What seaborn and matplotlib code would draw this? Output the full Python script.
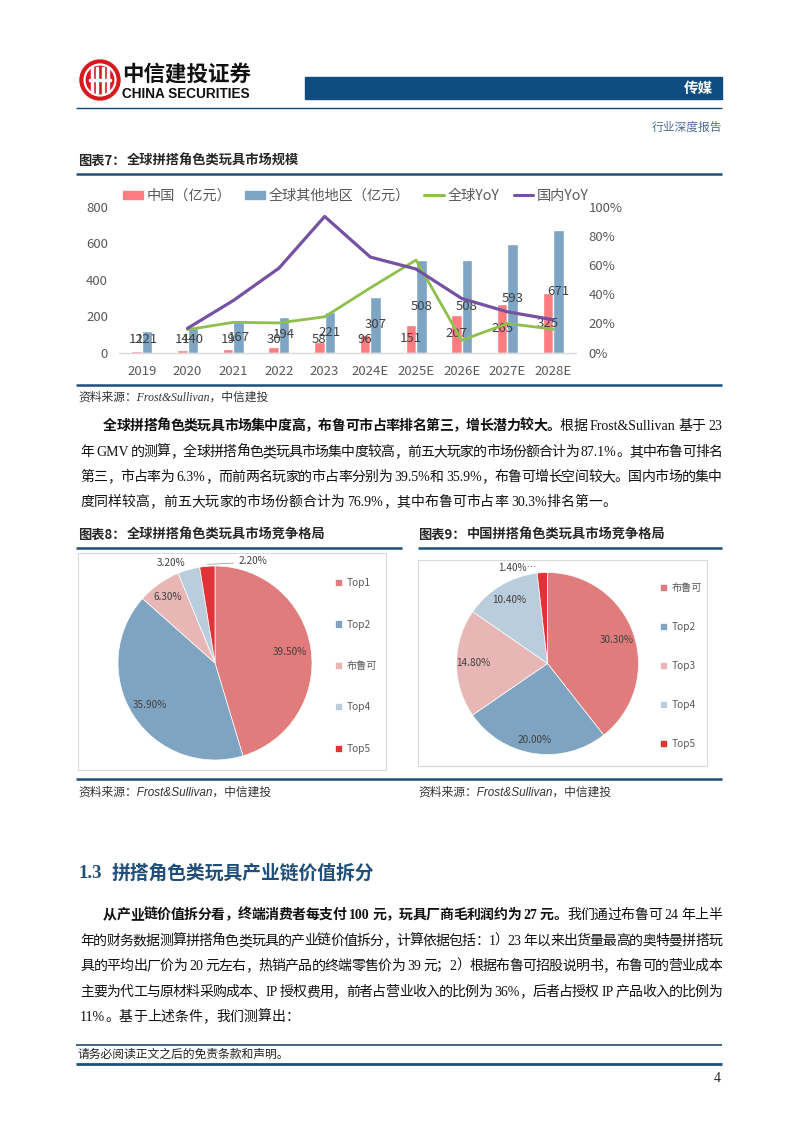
import re
import numpy as np
import pandas as pd
import matplotlib
matplotlib.use('Agg')
import matplotlib.pyplot as plt
import seaborn as sns
from matplotlib.patches import Rectangle, Circle, Patch
from matplotlib.lines import Line2D

# ---------------- data ----------------
years = ['2019', '2020', '2021', '2022', '2023', '2024E', '2025E', '2026E', '2027E', '2028E']
china = [12, 14, 19, 30, 58, 96, 151, 207, 265, 325]
rest_of_world = [121, 140, 167, 194, 221, 307, 508, 508, 593, 671]
global_yoy = [np.nan, 15.8, 20.8, 20.4, 24.6, 44.4, 63.5, 8.5, 20.0, 16.1]
china_yoy = [np.nan, 16.7, 35.7, 57.9, 93.3, 65.5, 57.3, 37.1, 28.0, 22.6]
left_ticks = [0, 200, 400, 600, 800]
right_ticks = [0, 20, 40, 60, 80, 100]
series_names = ['中国（亿元）', '全球其他地区（亿元）', '全球YoY', '国内YoY']

global_share_labels = ['Top1', 'Top2', '布鲁可', 'Top4', 'Top5']
global_share = [39.5, 35.9, 6.3, 3.2, 2.2]
china_share_labels = ['布鲁可', 'Top2', 'Top3', 'Top4', 'Top5']
china_share = [30.3, 20.0, 14.8, 10.4, 1.4]

# ---------------- style ----------------
sns.set_theme(style='white')
CJK = 'Noto Sans CJK SC'
plt.rcParams['font.family'] = [CJK, 'DejaVu Sans']
BODY = ['Liberation Serif', CJK]
SANS = ['Liberation Sans', CJK]

NAVY = '#0F4C7F'
LINEBLUE = '#1F4E79'
RED = '#FF7C80'
BLUE = '#7EA5C3'
GREEN = '#8FBF4D'
PURPLE = '#7552A1'
PIE_COLS = ['#E07C7C', '#7FA4C1', '#E9B6B6', '#B9CDDD', '#E13237']
TICK = '#595959'

W, H = 802, 1133
fig = plt.figure(figsize=(W / 100, H / 100), dpi=100)
page = fig.add_axes([0, 0, 1, 1])
page.set_xlim(0, W)
page.set_ylim(H, 0)
page.axis('off')
renderer = fig.canvas.get_renderer()


def hline(y, x0, x1, lw=1.5, color=LINEBLUE):
    page.plot([x0, x1], [y, y], color=color, lw=lw, solid_capstyle='butt')


# ---------------- header ----------------
page.add_patch(Circle((100, 80), 20, color='#D7191E'))
page.add_patch(Circle((100, 80), 15.5, fill=False, ec='white', lw=1.6))
for dx in [-8, -3, 3, 8]:
    page.add_patch(Rectangle((100 + dx - 1.2, 67), 2.4, 26, color='white'))
page.add_patch(Rectangle((89, 79), 22, 2.2, color='white'))
page.text(122, 74, '中信建投证券', fontsize=15.5, fontweight='bold', family=[CJK],
          ha='left', va='center', color='#111111')
page.text(122, 94, 'CHINA SECURITIES', fontsize=9.8, family=['Liberation Sans Narrow', 'Liberation Sans'],
          fontweight='bold', ha='left', va='center', color='#111111')
page.add_patch(Rectangle((305, 77), 417, 22, color=NAVY))
page.text(713, 88, '传媒', fontsize=10.5, fontweight='bold', color='white', ha='right', va='center', family=[CJK])
hline(108, 76, 722, lw=1.0, color=NAVY)
page.text(722, 127, '行业深度报告', fontsize=8.5, color='#4D6E8F', ha='right', va='center', family=[CJK])

# ---------------- figure 7 titles ----------------
page.text(78, 161, '图表7：', fontsize=9.5, fontweight='bold', ha='left', va='center', family=[CJK])
page.text(127, 161, '全球拼搭角色类玩具市场规模', fontsize=9.5, fontweight='bold', ha='left', va='center', family=[CJK])
hline(174, 76, 722, lw=1.8)
hline(385, 76, 722, lw=1.8)
page.text(78, 398, '资料来源：Frost&Sullivan，中信建投', fontsize=8.5, style='italic', ha='left',
          va='center', family=BODY, color='#333333')

# ---------------- bar + line chart ----------------
ax = fig.add_axes([119 / W, 1 - 352.7 / H, (576 - 119) / W, (352.7 - 206.7) / H])
df = pd.DataFrame({
    'year': years * 2,
    'series': [series_names[0]] * len(years) + [series_names[1]] * len(years),
    'value': china + rest_of_world,
})
sns.barplot(data=df, x='year', y='value', hue='series', palette=[RED, BLUE], width=0.46,
            saturation=1, ax=ax, legend=False)
ax.set_ylim(0, 800)
ax.set_xlim(-0.5, len(years) - 0.5)
ax.set_yticks(left_ticks)
ax.set_yticklabels([str(v) for v in left_ticks])
ax.set_xlabel('')
ax.set_ylabel('')
for s in ['top', 'right', 'left']:
    ax.spines[s].set_visible(False)
ax.spines['bottom'].set_color('#D9D9D9')
ax.spines['bottom'].set_linewidth(1.0)
ax.tick_params(axis='both', length=0, colors=TICK, labelsize=9.5)
ax.tick_params(axis='y', pad=8)
ax.tick_params(axis='x', pad=9)
ax.patch.set_alpha(0)
for cont, vals in zip(ax.containers, [china, rest_of_world]):
    for bar, v in zip(cont, vals):
        ax.text(bar.get_x() + bar.get_width() / 2, max(v / 2, 70), f'{v}', ha='center', va='center',
                fontsize=9.5, color='#404040')

ax2 = ax.twinx()
ldf = pd.DataFrame({'pos': list(range(len(years))), 'g': global_yoy, 'c': china_yoy}).dropna()
sns.lineplot(data=ldf, x='pos', y='g', ax=ax2, color=GREEN, lw=2.0)
sns.lineplot(data=ldf, x='pos', y='c', ax=ax2, color=PURPLE, lw=2.3)
ax2.set_ylim(0, 100)
ax2.set_xlim(-0.5, len(years) - 0.5)
ax2.set_yticks(right_ticks)
ax2.set_yticklabels([f'{v}%' for v in right_ticks])
ax2.set_ylabel('')
ax2.set_xlabel('')
for s in ['top', 'right', 'left', 'bottom']:
    ax2.spines[s].set_visible(False)
ax2.tick_params(axis='y', length=0, colors=TICK, labelsize=9.5, pad=9)

handles = [Patch(color=RED), Patch(color=BLUE), Line2D([], [], color=GREEN, lw=2.2),
           Line2D([], [], color=PURPLE, lw=2.2)]
leg = ax.legend(handles, series_names, ncol=4, loc='center', frameon=False,
                bbox_to_anchor=(356 / W, 1 - 196 / H), bbox_transform=fig.transFigure,
                fontsize=10.2, handlelength=1.4, handleheight=0.5, handletextpad=0.25, columnspacing=1.0,
                labelcolor=TICK)

# ---------------- paragraph helper ----------------
TOKEN_RE = re.compile(r'[A-Za-z0-9.&%]+|\s+|.')


def text_line(x0, x1, y, runs, size=10, justify=True):
    items = []
    for s, bold in runs:
        for tok in TOKEN_RE.findall(s):
            if tok.isspace():
                items.append((None, size * 100 / 72 * 0.25))
                continue
            t = page.text(0, y, tok, fontsize=size, family=BODY, fontweight='bold' if bold else 'normal',
                          ha='left', va='baseline', color='#111111')
            items.append((t, t.get_window_extent(renderer).width))
    natural = sum(w for _, w in items)
    extra = (x1 - x0 - natural) / (len(items) - 1) if justify and len(items) > 1 else 0
    x = x0
    for t, w in items:
        if t is not None:
            t.set_x(x)
        x += w + extra


P_L, P_R = 80, 722
para1 = [
    (103, 430, [('全球拼搭角色类玩具市场集中度高，布鲁可市占率排名第三，增长潜力较大。', True),
                ('根据 Frost&Sullivan 基于 23', False)], True),
    (P_L, 456, [('年 GMV 的测算，全球拼搭角色类玩具市场集中度较高，前五大玩家的市场份额合计为 87.1%。其中布鲁可排名', False)], True),
    (P_L, 481, [('第三，市占率为 6.3%，而前两名玩家的市占率分别为 39.5%和 35.9%，布鲁可增长空间较大。国内市场的集中', False)], True),
    (P_L, 506, [('度同样较高，前五大玩家的市场份额合计为 76.9%，其中布鲁可市占率 30.3%排名第一。', False)], False),
]
for x0, y, runs, j in para1:
    text_line(x0, P_R, y, runs, justify=j)

# ---------------- pie charts ----------------
page.text(78, 535, '图表8：', fontsize=9.5, fontweight='bold', ha='left', va='center', family=[CJK])
page.text(127, 535, '全球拼搭角色类玩具市场竞争格局', fontsize=9.5, fontweight='bold', ha='left', va='center', family=[CJK])
page.text(418, 535, '图表9：', fontsize=9.5, fontweight='bold', ha='left', va='center', family=[CJK])
page.text(467, 535, '中国拼搭角色类玩具市场竞争格局', fontsize=9.5, fontweight='bold', ha='left', va='center', family=[CJK])
hline(548, 76, 402, lw=1.8)
hline(548, 418, 722, lw=1.8)
page.add_patch(Rectangle((78, 553), 308, 217, fill=False, ec='#D9D9D9', lw=0.8))
page.add_patch(Rectangle((418, 560), 289, 206, fill=False, ec='#D9D9D9', lw=0.8))
hline(779, 76, 722, lw=1.8)
for xs in [78, 418]:
    page.text(xs, 793, '资料来源：Frost&Sullivan，中信建投', fontsize=8.5, style='italic', ha='left',
              va='center', family=SANS, color='#333333')


def draw_pie(cx, cy, r, values, labels, label_pos, leg_x, leg_y, leg_space):
    pax = fig.add_axes([(cx - r) / W, 1 - (cy + r) / H, 2 * r / W, 2 * r / H])
    wedges, _ = pax.pie(values, colors=PIE_COLS, startangle=90, counterclock=False,
                        wedgeprops=dict(edgecolor='white', linewidth=0.5))
    pax.set_xlim(-1, 1)
    pax.set_ylim(-1, 1)
    pax.set_aspect('equal')
    for wdg, v, (dist, dang, txt_suffix, leader) in zip(wedges, values, label_pos):
        mid = np.deg2rad((wdg.theta1 + wdg.theta2) / 2 + dang)
        lx, ly = dist * np.cos(mid), dist * np.sin(mid)
        pax.text(lx, ly, f'{v:.2f}%{txt_suffix}', ha='center', va='center', fontsize=7.2,
                 color='#404040', clip_on=False)
        if leader:
            m0 = np.deg2rad((wdg.theta1 + wdg.theta2) / 2)
            pax.plot([np.cos(m0) * 1.0, lx - 0.2], [np.sin(m0) * 1.02, ly - 0.02], color='#A6A6A6',
                     lw=0.6, clip_on=False)
    pax.legend(wedges, labels, loc='center left', bbox_to_anchor=(leg_x / W, 1 - leg_y / H),
               bbox_transform=fig.transFigure, frameon=False, fontsize=7.3, labelcolor=TICK,
               handlelength=0.7, handleheight=0.7, handletextpad=0.4, labelspacing=leg_space)
    return pax


draw_pie(215, 663, 97, global_share, global_share_labels,
         [(0.78, 0, '', False), (0.8, 0, '', False), (0.84, 0, '', False),
          (1.13, 8, '', False), (1.12, -25, '', True)],
         326, 666, 3.1)
draw_pie(547.5, 663.5, 91, china_share, china_share_labels,
         [(0.8, 0, '', False), (0.85, -1, '', False), (0.82, 0, '', False),
          (0.81, 0, '', False), (1.1, 14, '…', False)],
         651, 666, 2.85)

# ---------------- section 1.3 ----------------
page.text(78, 873, '1.3', fontsize=13.5, color=LINEBLUE, ha='left', va='center',
          family=BODY, fontweight='bold')
page.text(112, 873, '拼搭角色类玩具产业链价值拆分', fontsize=13.5, color=LINEBLUE, ha='left',
          va='center', family=[CJK], fontweight='bold')
para2 = [
    (103, 919, [('从产业链价值拆分看，终端消费者每支付 100 元，玩具厂商毛利润约为 27 元。', True),
                ('我们通过布鲁可 24 年上半', False)], True),
    (P_L, 945, [('年的财务数据测算拼搭角色类玩具的产业链价值拆分，计算依据包括：1）23 年以来出货量最高的奥特曼拼搭玩', False)], True),
    (P_L, 970, [('具的平均出厂价为 20 元左右，热销产品的终端零售价为 39 元；2）根据布鲁可招股说明书，布鲁可的营业成本', False)], True),
    (P_L, 996, [('主要为代工与原材料采购成本、IP 授权费用，前者占营业收入的比例为 36%，后者占授权 IP 产品收入的比例为', False)], True),
    (P_L, 1021, [('11%。基于上述条件，我们测算出：', False)], False),
]
for x0, y, runs, j in para2:
    text_line(x0, P_R, y, runs, justify=j)

# ---------------- footer ----------------
hline(1045, 76, 722, lw=1.2)
page.text(78, 1054, '请务必阅读正文之后的免责条款和声明。', fontsize=8.5, ha='left', va='center', family=[CJK],
          color='#222222')
hline(1064, 76, 722, lw=2.0)
page.text(721, 1079, '4', fontsize=10, ha='right', va='center', family=BODY)

fig.savefig('out.png', dpi=100)
